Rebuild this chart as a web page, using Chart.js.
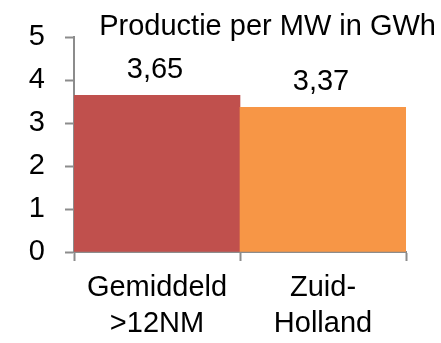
<!DOCTYPE html>
<html>
<head>
<meta charset="utf-8">
<script src="https://cdn.jsdelivr.net/npm/chart.js@4"></script>
<style>
  html, body { margin: 0; padding: 0; background: #ffffff; }
  #wrap { width: 441px; height: 343px; }
</style>
</head>
<body>
<div id="wrap"><canvas id="chart" width="441" height="343"></canvas></div>
<script>
// Productie per MW in GWh
const chartTitle = 'Productie per MW in GWh';
const categories = [['Gemiddeld', '>12NM'], ['Zuid-', 'Holland']];
const productionPerMW = [3.65, 3.37];
const barColors = ['#C0504D', '#F79646'];
const yTicks = [0, 1, 2, 3, 4, 5];

const FONT = '"Liberation Sans", Arial, sans-serif';
const AXIS_GREY = '#8c8c8c';

const formatNL = v => v.toFixed(2).replace('.', ',');

// Heading, right aligned above the plot
const titlePlugin = {
  id: 'headingText',
  afterDraw(chart) {
    const ctx = chart.ctx;
    ctx.save();
    ctx.font = '29px ' + FONT;
    ctx.fillStyle = '#000000';
    ctx.textAlign = 'right';
    ctx.textBaseline = 'alphabetic';
    ctx.fillText(chartTitle, 436, 35);
    ctx.restore();
  }
};

// Value above each bar
const valueLabels = {
  id: 'valueLabels',
  afterDatasetsDraw(chart) {
    const ctx = chart.ctx;
    const meta = chart.getDatasetMeta(0);
    ctx.save();
    ctx.font = '29px ' + FONT;
    ctx.fillStyle = '#000000';
    ctx.textAlign = 'center';
    ctx.textBaseline = 'alphabetic';
    meta.data.forEach((bar, i) => {
      ctx.fillText(formatNL(productionPerMW[i]), bar.x - 2, bar.y - 17);
    });
    ctx.restore();
  }
};

new Chart(document.getElementById('chart'), {
  type: 'bar',
  data: {
    labels: categories,
    datasets: [{
      data: productionPerMW,
      backgroundColor: barColors,
      borderWidth: 0,
      barPercentage: 1.0,
      categoryPercentage: 1.0
    }]
  },
  options: {
    responsive: false,
    animation: false,
    devicePixelRatio: 1,
    layout: { padding: { top: 36, left: 29, right: 35, bottom: 1 } },
    plugins: {
      legend: { display: false },
      title: { display: false },
      tooltip: { enabled: false }
    },
    scales: {
      x: {
        afterFit(scale) {
          // category labels sit well inside the plot; no side overflow room needed
          scale.paddingLeft = 0;
          scale.paddingRight = 0;
          scale.height = 90;
        },
        grid: {
          offset: true,
          drawOnChartArea: false,
          drawTicks: true,
          tickLength: 9,
          tickWidth: 2,
          tickColor: AXIS_GREY
        },
        border: { display: true, color: AXIS_GREY, width: 2 },
        ticks: {
          color: '#000000',
          padding: 9,
          maxRotation: 0,
          autoSkip: false,
          font: { family: FONT, size: 29, lineHeight: 1.24 }
        }
      },
      y: {
        min: yTicks[0],
        max: yTicks[yTicks.length - 1],
        afterBuildTicks(scale) {
          scale.ticks = yTicks.map(v => ({ value: v }));
        },
        afterFit(scale) {
          // label + gap + tick mark
          scale.width = 45;
        },
        grid: {
          drawOnChartArea: false,
          drawTicks: true,
          tickLength: 9,
          tickWidth: 2,
          tickColor: AXIS_GREY
        },
        border: { display: true, color: AXIS_GREY, width: 2 },
        ticks: {
          color: '#000000',
          padding: 20,
          font: { family: FONT, size: 29, lineHeight: 1.2 }
        }
      }
    }
  },
  plugins: [titlePlugin, valueLabels]
});
</script>
</body>
</html>
